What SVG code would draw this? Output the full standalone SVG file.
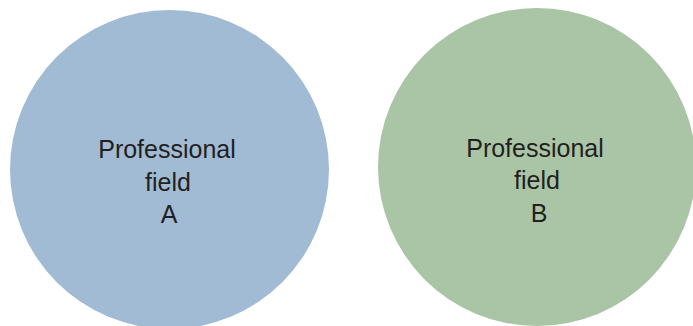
<svg xmlns="http://www.w3.org/2000/svg" width="693" height="326" viewBox="0 0 693 326">
<style>
.lbl{font-family:"Liberation Sans",Arial,sans-serif;font-size:25px;fill:#231f20;text-anchor:middle}
</style>
<rect width="693" height="326" fill="#ffffff"/>
<g id="fieldA">
<circle cx="169.5" cy="169.5" r="159.5" fill="#a1bbd5"/>
<text class="lbl" x="167" y="158">Professional</text>
<text class="lbl" x="168" y="191">field</text>
<text class="lbl" x="169" y="223">A</text>
</g>
<g id="fieldB">
<circle cx="537" cy="167" r="159" fill="#a9c5a6"/>
<text class="lbl" x="535" y="157">Professional</text>
<text class="lbl" x="537" y="189">field</text>
<text class="lbl" x="539" y="222">B</text>
</g>
<g id="connectors"></g>
</svg>
